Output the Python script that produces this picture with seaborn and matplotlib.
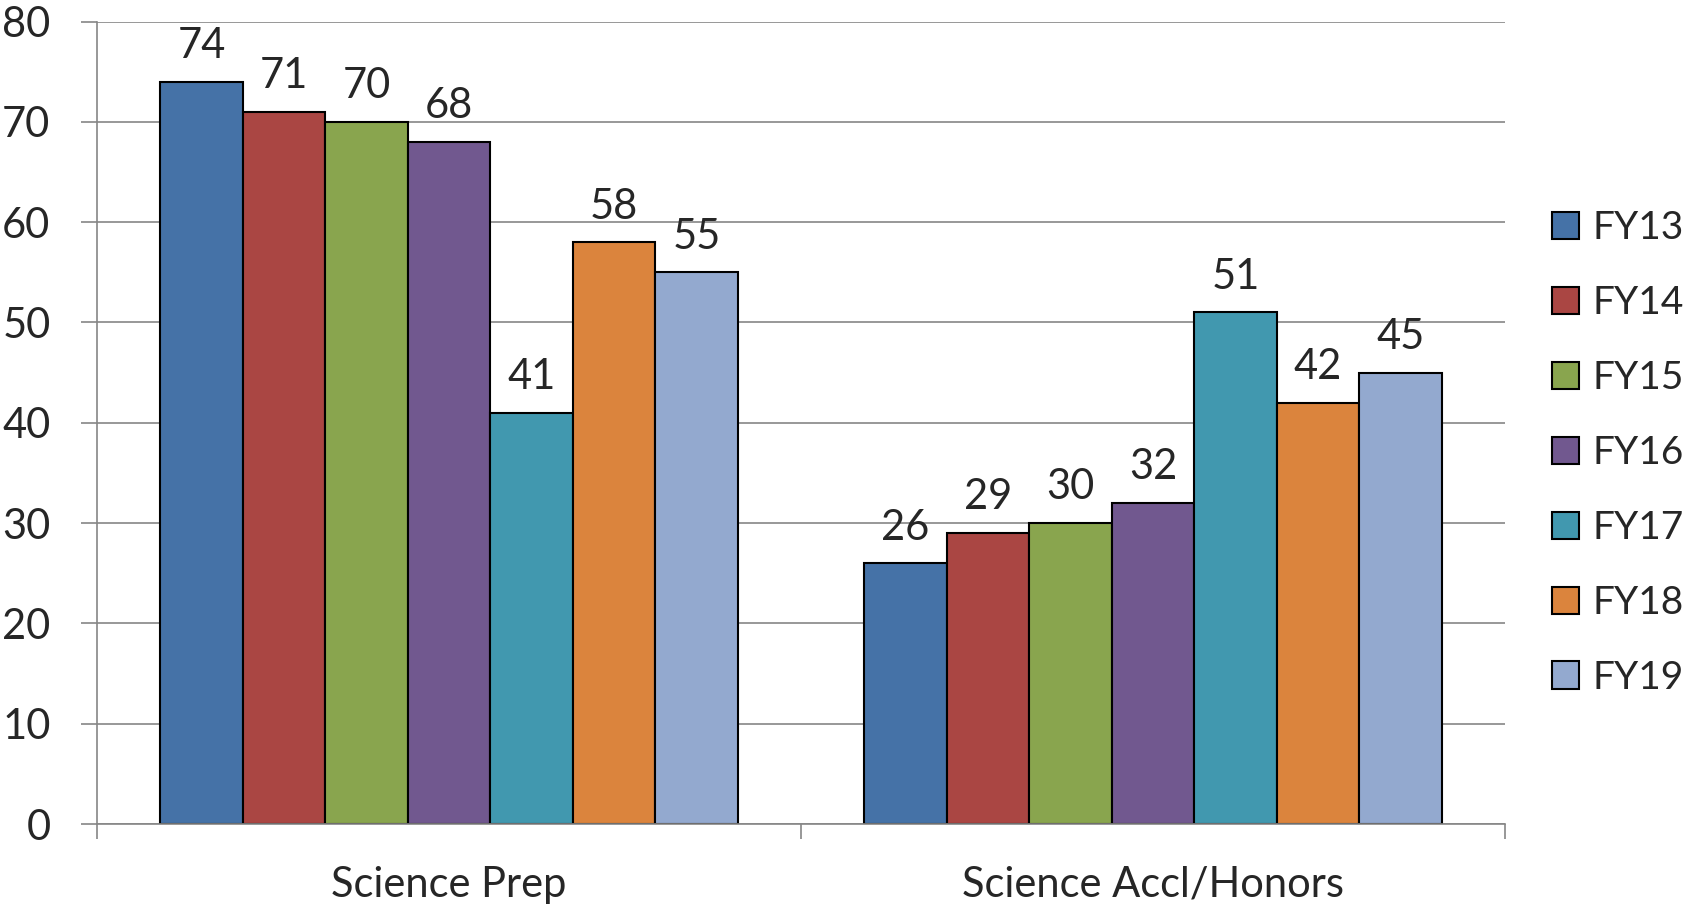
import pandas as pd
import matplotlib.pyplot as plt
import seaborn as sns
from matplotlib.patches import Patch

# Data
categories = ['Science Prep', 'Science Accl/Honors']
years = ['FY13', 'FY14', 'FY15', 'FY16', 'FY17', 'FY18', 'FY19']
prep_values = [74, 71, 70, 68, 41, 58, 55]
honors_values = [26, 29, 30, 32, 51, 42, 45]
colors = ['#4572A7', '#AA4643', '#89A54E', '#71588F', '#4198AF', '#DB843D', '#93A9CF']

rows = []
for i, y in enumerate(years):
    rows.append({'category': categories[0], 'year': y, 'value': prep_values[i]})
    rows.append({'category': categories[1], 'year': y, 'value': honors_values[i]})
df = pd.DataFrame(rows)

sns.set_style('white')
plt.rcParams['font.family'] = ['Lato', 'DejaVu Sans']

W, H = 1686, 906
fig = plt.figure(figsize=(W / 100, H / 100), dpi=100)
ax = fig.add_axes([97 / W, 1 - 824 / H, (1505 - 97) / W, (824 - 21.5) / H])

sns.barplot(data=df, x='category', y='value', hue='year', order=categories,
            hue_order=years, palette=colors, saturation=1, edgecolor='black',
            linewidth=1.5, width=0.82, gap=0, ax=ax, legend=False)

for cont in ax.containers:
    ax.bar_label(cont, fontsize=30, padding=12)

grey = '#868686'
ax.set_xlim(-0.5, 1.5)
ax.set_ylim(0, 80)
ax.set_yticks(range(0, 81, 10))
ax.set_axisbelow(True)
ax.yaxis.grid(True, color=grey, linewidth=1.2)
ax.xaxis.grid(False)
for s in ['top', 'right']:
    ax.spines[s].set_visible(False)
for s in ['left', 'bottom']:
    ax.spines[s].set_color(grey)
    ax.spines[s].set_linewidth(1.2)

ax.tick_params(axis='y', length=11.5, width=1.2, color=grey, labelsize=30, pad=22, left=True)
ax.tick_params(axis='x', which='major', length=0, labelsize=30, pad=30)
ax.set_xticks([-0.5, 0.5, 1.5], minor=True)
ax.tick_params(axis='x', which='minor', length=11, width=1.2, color=grey, bottom=True)
ax.set_xlabel('')
ax.set_ylabel('')

handles = [Patch(facecolor=c, edgecolor='black', linewidth=1.5) for c in colors]
fig.legend(handles, years, loc='center left', bbox_to_anchor=(1552 / W, 1 - 453 / H),
           frameon=False, fontsize=28, handlelength=0.7, handleheight=0.7,
           handletextpad=0.35, labelspacing=1.0, borderpad=0, borderaxespad=0)

fig.savefig('out.png', dpi=100)
